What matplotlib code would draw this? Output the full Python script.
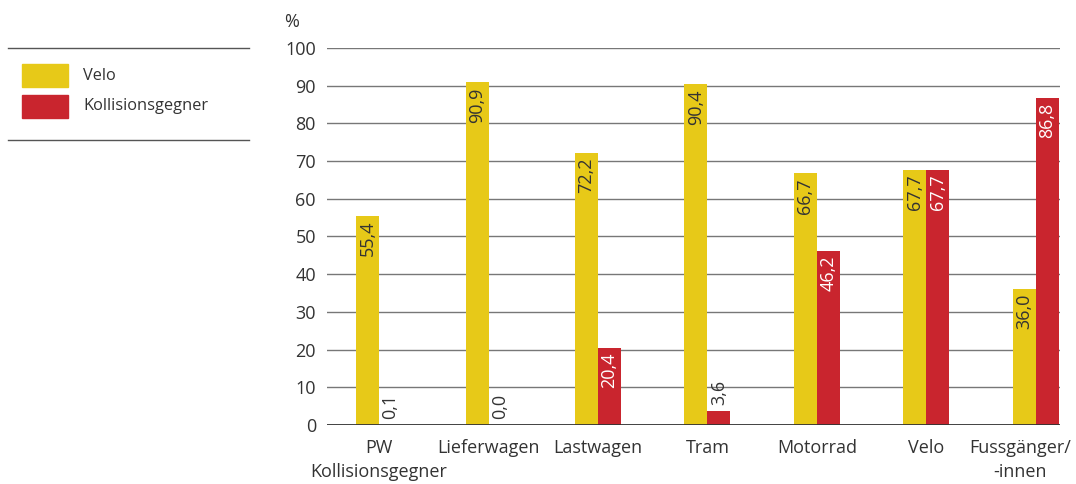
import matplotlib
matplotlib.use("Agg")
import matplotlib.pyplot as plt
import matplotlib.transforms as mtransforms
import numpy as np
from matplotlib.patches import Rectangle
from matplotlib.lines import Line2D

plt.rcParams['font.family'] = ['Open Sans', 'DejaVu Sans']

categories = ["PW\nKollisionsgegner", "Lieferwagen", "Lastwagen", "Tram",
              "Motorrad", "Velo", "Fussgänger/\n-innen"]
velo = [55.4, 90.9, 72.2, 90.4, 66.7, 67.7, 36.0]
gegner = [0.1, 0.0, 20.4, 3.6, 46.2, 67.7, 86.8]
series_names = ["Velo", "Kollisionsgegner"]
yticks = [0, 10, 20, 30, 40, 50, 60, 70, 80, 90, 100]

YELLOW = "#E7C918"
RED = "#C9252E"
TEXT = "#333333"

fig = plt.figure(figsize=(10.76, 4.84), dpi=100)
ax = fig.add_axes([0.304, 0.122, 0.681, 0.779])

x = np.arange(len(categories))
w = 0.21

bars_v = ax.bar(x - w / 2, velo, w, color=YELLOW, zorder=3)
bars_g = ax.bar(x + w / 2, gegner, w, color=RED, zorder=3)

def fmt(v):
    return f"{v:.1f}".replace(".", ",")

def label(bars, values, inside_color):
    for b, v in zip(bars, values):
        cx = b.get_x() + b.get_width() / 2
        if v >= 12:
            ax.text(cx, v - 1.3, fmt(v), rotation=90, ha="center", va="top",
                    color=inside_color, fontsize=13, zorder=4)
        else:
            ax.text(cx, v + 1.6, fmt(v), rotation=90, ha="center", va="bottom",
                    color=TEXT, fontsize=13, zorder=4)

label(bars_v, velo, TEXT)
label(bars_g, gegner, "white")

ax.set_ylim(0, 100)
ax.set_xlim(-0.475, 6.22)
ax.set_yticks(yticks)
ax.set_xticks(x)
ax.set_xticklabels(categories, fontsize=13, color=TEXT, linespacing=1.45)
ax.tick_params(axis="y", length=0, pad=8, labelsize=13, labelcolor=TEXT)
ax.tick_params(axis="x", length=0, pad=10)
# keep the last category label inside the figure
last = ax.get_xticklabels()[-1]
last.set_transform(last.get_transform() +
                   mtransforms.ScaledTranslation(-16 / 100, 0, fig.dpi_scale_trans))
for s in ax.spines.values():
    s.set_visible(False)
for t in yticks[1:]:
    ax.axhline(t, color="#777777", lw=1.0, zorder=1)
ax.axhline(0, color="#333333", lw=1.3, zorder=5)

fig.text(0.264, 0.955, "%", fontsize=13, color=TEXT, ha="left", va="center")

# legend panel on the left
fig.add_artist(Line2D([0.007, 0.231], [0.901, 0.901], color="#555555", lw=1))
fig.add_artist(Line2D([0.007, 0.231], [0.711, 0.711], color="#555555", lw=1))
for i, (name, col) in enumerate(zip(series_names, [YELLOW, RED])):
    yb = 1 - (87 + 31 * i) / 484
    fig.add_artist(Rectangle((22 / 1076, yb), 46 / 1076, 23 / 484,
                             color=col, transform=fig.transFigure))
    fig.text(83 / 1076, yb + 11.5 / 484, name, fontsize=11.8, color=TEXT,
             ha="left", va="center")

fig.savefig("out.png", dpi=100)
